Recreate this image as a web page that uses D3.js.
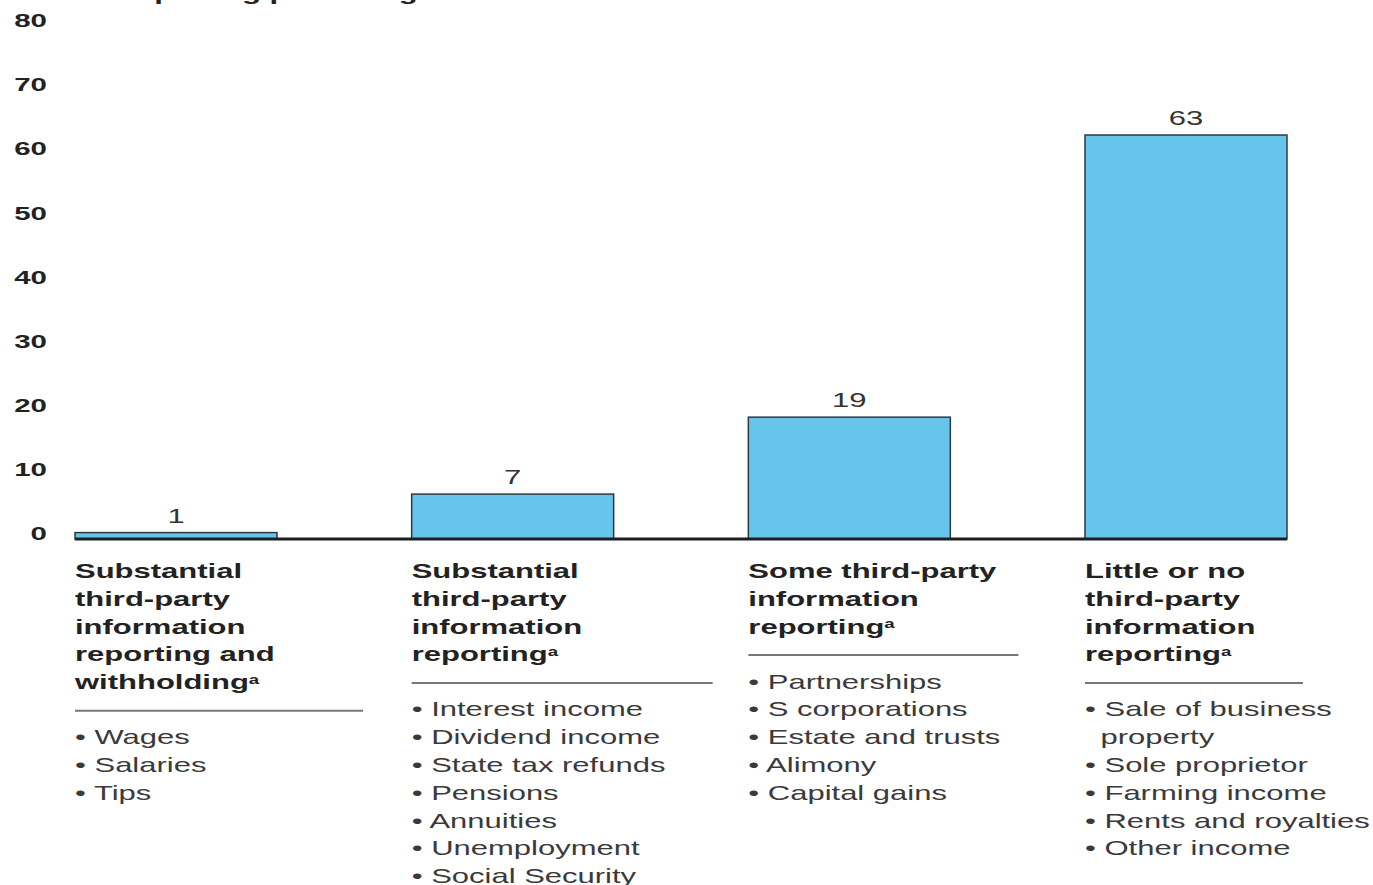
<!DOCTYPE html>
<html>
<head>
<meta charset="utf-8">
<script src="https://cdn.jsdelivr.net/npm/d3@7"></script>
<style>
  body { margin: 0; background: #fff; }
  svg { display: block; font-family: "Liberation Sans", Arial, sans-serif; }
</style>
</head>
<body>
<svg id="chart" width="1373" height="885"></svg>
<script>
// data
const categories = [
  'Substantial\nthird-party\ninformation\nreporting and\nwithholding',
  'Substantial\nthird-party\ninformation\nreporting',
  'Some third-party\ninformation\nreporting',
  'Little or no\nthird-party\ninformation\nreporting'
]
const values = [1, 7, 19, 63]
const items = [
  ['Wages', 'Salaries', 'Tips'],
  ['Interest income', 'Dividend income', 'State tax refunds', 'Pensions', 'Annuities', 'Unemployment', 'Social Security'],
  ['Partnerships', 'S corporations', 'Estate and trusts', 'Alimony', 'Capital gains'],
  ['Sale of business\nproperty', 'Sole proprietor', 'Farming income', 'Rents and royalties', 'Other income']
]
const yTicks = [0, 10, 20, 30, 40, 50, 60, 70, 80]
const title = 'Net misreporting percentage'

// layout
const sx = 1.55          // the picture is stretched sideways
const fontSize = 20
const lineH = 27.8
const ruleWidths = [288, 301, 270, 218]

const svg = d3.select('#chart')

const x = d3.scaleBand()
  .domain(d3.range(values.length))
  .range([75, 1287])
  .paddingInner(0.4)
  .paddingOuter(0)

const y = d3.scaleLinear()
  .domain([0, 80])
  .range([539, 26])

// title (cut off at the top, only the descenders show)
svg.append('text')
  .attr('transform', `translate(13,0) scale(${sx},1)`)
  .style('font-size', fontSize + 'px')
  .style('font-weight', 'bold')
  .attr('fill', '#222')
  .text(title)

// y axis
let yAxis = svg.append('g')
  .attr('transform', 'translate(47,0)')
  .call(d3.axisLeft(y).tickValues(yTicks).tickSize(0).tickPadding(0))
yAxis.select('.domain').remove()
yAxis.selectAll('text')
  .attr('x', 0)
  .attr('dy', '0.35em')
  .attr('transform', `translate(0,-6) scale(${sx},1)`)
  .style('font-size', '19px')
  .style('font-weight', 'bold')
  .style('font-family', '"Liberation Sans", Arial, sans-serif')
  .attr('fill', '#222')

// bars
svg.append('g').selectAll('rect')
  .data(values)
  .join('rect')
  .attr('x', (d, i) => x(i))
  .attr('y', d => y(d))
  .attr('width', x.bandwidth())
  .attr('height', d => y(0) - y(d))
  .attr('fill', '#67c5ec')
  .attr('stroke', '#2b3a42')
  .attr('stroke-width', 1.5)

// value labels
svg.append('g').selectAll('text')
  .data(values)
  .join('text')
  .attr('transform', (d, i) => `translate(${x(i) + x.bandwidth() / 2},${y(d) - 17}) scale(${sx},1)`)
  .attr('dy', '0.35em')
  .attr('text-anchor', 'middle')
  .style('font-size', fontSize + 'px')
  .attr('fill', '#333')
  .text(d => d)

// baseline
svg.append('line')
  .attr('x1', x(0))
  .attr('x2', x(values.length - 1) + x.bandwidth())
  .attr('y1', y(0))
  .attr('y2', y(0))
  .attr('stroke', '#1e1e1e')
  .attr('stroke-width', 3)

// category headers, rules and item lists
categories.forEach(function (cat, i) {
  let x0 = x(i)
  let top = 571
  let lines = cat.split('\n')

  let head = svg.append('text')
    .attr('transform', `translate(${x0},${top}) scale(${sx},1)`)
    .style('font-size', fontSize + 'px')
    .style('font-weight', 'bold')
    .attr('fill', '#222')
  lines.forEach(function (ln, j) {
    head.append('tspan')
      .attr('x', 0)
      .attr('y', j * lineH)
      .attr('dy', '0.35em')
      .text(ln)
  })
  // superscript a
  head.append('tspan')
    .style('font-size', '12px')
    .attr('baseline-shift', '5')
    .text('a')

  let ruleY = top + (lines.length - 1) * lineH + 28.5
  svg.append('line')
    .attr('x1', x0)
    .attr('x2', x0 + ruleWidths[i])
    .attr('y1', ruleY)
    .attr('y2', ruleY)
    .attr('stroke', '#777')
    .attr('stroke-width', 2)

  let list = svg.append('text')
    .attr('transform', `translate(${x0},${ruleY + 26.5}) scale(${sx},1)`)
    .style('font-size', fontSize + 'px')
    .attr('fill', '#3a3a3a')
  let row = 0
  items[i].forEach(function (it) {
    it.split('\n').forEach(function (part, k) {
      list.append('tspan')
        .attr('x', 0)
        .attr('y', row * lineH)
        .attr('dy', '0.35em')
        .text(k === 0 ? '• ' + part : '\u2002' + part)
      row++
    })
  })
})
</script>
</body>
</html>
